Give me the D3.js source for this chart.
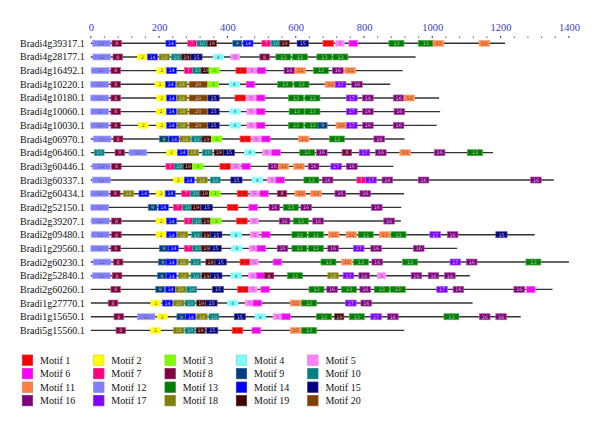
<!DOCTYPE html>
<html><head><meta charset="utf-8">
<script src="https://cdn.jsdelivr.net/npm/d3@7"></script>
<style>body{margin:0;background:#fff}</style>
</head><body>
<svg id="c" width="600" height="426"></svg>
<script>
const genes = ["Bradi4g39317.1","Bradi4g28177.1","Bradi4g16492.1","Bradi4g10220.1","Bradi4g10180.1","Bradi4g10060.1","Bradi4g10030.1","Bradi4g06970.1","Bradi4g06460.1","Bradi3g60446.1","Bradi3g60337.1","Bradi2g60434.1","Bradi2g52150.1","Bradi2g39207.1","Bradi2g09480.1","Bradi1g29560.1","Bradi2g60230.1","Bradi2g52840.1","Bradi2g60260.1","Bradi1g27770.1","Bradi1g15650.1","Bradi5g15560.1"];
const geneLengths = [1213,951,913,877,1020,1023,1013,919,1178,886,1356,917,909,908,1300,1073,1400,1110,1352,1118,1259,918];
// motif hits per gene: [motif number, start position]
const motifHits = [
 [[12,5],[8,62],[14,220],[7,284],[10,311],[19,341],[9,416],[14,446],[7,501],[10,528],[19,554],[15,604],[1,680],[5,717],[6,756],[13,873],[13,959],[11,1002],[11,1137]],
 [[12,6],[8,65],[2,137],[14,166],[18,200],[10,236],[19,266],[15,293],[4,358],[5,410],[8,495],[13,542],[13,590],[13,662],[13,709]],
 [[12,2],[8,59],[2,193],[14,222],[7,274],[10,298],[19,323],[3,346],[1,425],[5,459],[6,487],[16,566],[11,598],[13,652],[16,708],[11,744]],
 [[12,0],[8,59],[2,188],[14,219],[18,251],[20,288],[3,343],[4,405],[6,455],[13,547],[13,595],[11,686],[17,716],[16,764]],
 [[12,0],[8,59],[2,193],[14,222],[18,251],[20,288],[15,343],[1,422],[5,457],[6,485],[13,579],[13,627],[17,749],[16,796],[16,886],[11,917]],
 [[12,0],[8,59],[2,191],[14,222],[18,253],[20,288],[15,343],[4,407],[5,457],[6,485],[13,581],[13,627],[17,749],[16,796],[16,888]],
 [[12,0],[8,59],[2,139],[2,193],[14,222],[18,253],[20,288],[15,343],[4,407],[5,457],[6,485],[13,579],[13,627],[9,666],[11,718],[17,749],[16,796],[16,886]],
 [[12,7],[8,66],[9,201],[14,229],[18,261],[10,295],[19,325],[3,353],[1,437],[5,472],[6,500],[11,608],[13,699],[16,829]],
 [[10,10],[8,71],[12,112],[2,222],[14,254],[18,285],[10,327],[19,361],[15,388],[4,450],[5,503],[6,530],[13,612],[16,661],[8,736],[17,786],[16,834],[11,905],[16,1006],[13,1103]],
 [[12,5],[8,61],[7,220],[10,244],[19,271],[3,298],[1,378],[5,412],[6,442],[16,520],[11,549],[11,594],[16,637],[17,703],[16,749]],
 [[12,5],[2,242],[14,274],[18,310],[10,350],[15,410],[4,472],[5,518],[6,542],[13,624],[16,678],[7,779],[17,805],[16,853],[16,959],[16,1288]],
 [[12,0],[8,58],[18,95],[14,141],[2,191],[14,218],[7,266],[10,292],[19,320],[3,348],[1,429],[5,466],[6,495],[8,546],[11,598],[11,644],[16,715],[16,788]],
 [[12,0],[9,168],[14,198],[7,242],[10,269],[19,295],[15,323],[1,400],[6,463],[16,522],[13,564],[16,615],[16,822]],
 [[12,2],[8,61],[2,191],[14,222],[7,274],[10,298],[19,325],[3,351],[1,427],[5,466],[16,552],[13,593],[16,650],[16,858]],
 [[12,2],[8,61],[2,191],[14,222],[18,253],[10,295],[19,325],[15,351],[4,410],[5,468],[6,500],[13,589],[13,637],[11,696],[11,747],[13,783],[11,845],[13,879],[17,993],[16,1044],[15,1186]],
 [[12,0],[8,59],[9,201],[14,227],[7,274],[10,298],[19,325],[15,349],[4,412],[5,464],[6,487],[16,546],[13,589],[13,637],[16,694],[17,769],[16,820],[16,945]],
 [[12,7],[8,66],[9,198],[14,222],[18,254],[10,293],[19,337],[15,364],[1,437],[5,466],[6,534],[13,674],[11,734],[13,769],[16,823],[13,913],[17,1052],[16,1100],[13,1274]],
 [[12,5],[8,63],[9,195],[14,222],[18,256],[10,293],[19,325],[15,351],[4,410],[5,462],[6,485],[8,508],[13,576],[18,694],[17,739],[16,785],[5,839],[16,938],[16,988],[16,1036]],
 [[8,59],[9,190],[14,219],[18,248],[10,281],[15,356],[1,430],[5,462],[6,498],[13,639],[16,691],[13,734],[16,788],[13,830],[13,877],[17,1013],[16,1061],[16,1239],[6,1276]],
 [[8,51],[2,176],[14,210],[18,242],[10,276],[19,310],[15,337],[4,400],[5,452],[6,475],[11,584],[13,617],[17,746],[16,791]],
 [[8,68],[12,136],[2,195],[9,252],[14,278],[18,310],[10,346],[15,420],[4,481],[5,534],[6,559],[13,661],[19,714],[13,757],[17,820],[16,869],[13,1034],[16,1138],[16,1186]],
 [[8,74],[2,175],[18,242],[10,276],[19,308],[15,339],[1,414],[6,472],[11,584],[13,617]]
];
// motif lengths (aa), motif 1..20
const motifLengths = [31,29,31,31,25,25,25,28,26,29,31,52,44,29,33,31,31,31,27,53];
const motifNames = d3.range(1,21).map(i=>"Motif "+i);
const axisTicks = [0,200,400,600,800,1000,1200,1400];

const palette = ["#ff0000","#ffff00","#80ff00","#80ffff","#ff80ff","#ff00ff","#ff0080","#800040","#004080","#008080","#ff8040","#8080ff","#008000","#0000ff","#000080","#800080","#8000ff","#808000","#400000","#804000"];
const lightFill = new Set([1,2,3,4,5,6,11,12]);

const svg = d3.select("#c");
const serif = "'Liberation Serif','Times New Roman',serif";
const x = d3.scaleLinear().domain([0,1400]).range([90.8,568.9]);
const y = d3.scalePoint().domain(genes).range([43.3,330.4]);

// axis
const ax = svg.append("g").attr("transform","translate(0,31)")
  .call(d3.axisTop(x).tickValues(axisTicks).tickFormat(d3.format("d")).tickSize(0).tickPadding(0));
ax.select(".domain").remove();
ax.selectAll("text").attr("font-family",serif).attr("font-size",10.5).attr("fill","#3a3ac8").attr("dy",0);
svg.append("g").selectAll("rect").data(d3.range(0,1401,40)).join("rect")
  .attr("x",d=>x(d)-0.6).attr("y",d=>d%200===0?36:36.6).attr("width",1.2).attr("height",d=>d%200===0?2:1.2)
  .attr("fill","#4a4ad0");

// rows
const rows = svg.append("g").selectAll("g").data(genes).join("g")
  .attr("transform",d=>`translate(0,${y(d)})`);
rows.append("text").text(d=>d).attr("x",20).attr("y",3.5)
  .attr("font-family",serif).attr("font-size",10).attr("fill","#111");
rows.append("line").attr("x1",x(0)).attr("x2",(d,i)=>x(geneLengths[i]))
  .attr("y1",0).attr("y2",0).attr("stroke","#333").attr("stroke-width",1.4);
const boxes = rows.selectAll("g.m").data((d,i)=>motifHits[i]).join("g").attr("class","m");
boxes.append("rect")
  .attr("x",d=>x(d[1])).attr("y",-3).attr("width",d=>x(d[1]+motifLengths[d[0]-1])-x(d[1]))
  .attr("height",6).attr("fill",d=>palette[d[0]-1])
  .attr("stroke",d=>d3.interpolateRgb(palette[d[0]-1],"#fff")(0.35)).attr("stroke-width",0.7);
boxes.append("text").text(d=>d[0])
  .attr("x",d=>(x(d[1])+x(d[1]+motifLengths[d[0]-1]))/2).attr("y",1.8)
  .attr("text-anchor","middle").attr("font-family","DejaVu Sans,sans-serif").attr("font-size",4.8)
  .attr("fill",d=>lightFill.has(d[0])?"#666":"#ccc");

// legend
const lg = svg.append("g").selectAll("g").data(motifNames).join("g")
  .attr("transform",(d,i)=>`translate(${22.3+(i%5)*71.35},${355+Math.floor(i/5)*13.5})`);
lg.append("rect").attr("width",10.3).attr("height",10.3)
  .attr("fill",(d,i)=>palette[i]).attr("stroke",(d,i)=>d3.interpolateRgb(palette[i],"#888")(0.3)).attr("stroke-width",0.8);
lg.append("text").text(d=>d).attr("x",17.7).attr("y",8.8)
  .attr("font-family",serif).attr("font-size",10).attr("fill","#111");
</script>
</body></html>
